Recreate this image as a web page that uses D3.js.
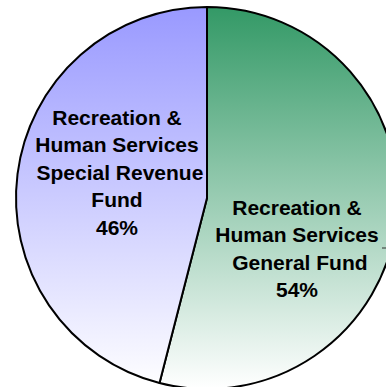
<!DOCTYPE html>
<html>
<head>
<meta charset="utf-8">
<script src="https://cdn.jsdelivr.net/npm/d3@7"></script>
<style>
  html, body { margin: 0; padding: 0; background: #ffffff; }
  svg { display: block; }
</style>
</head>
<body>
<script>
// Fund shares (percent)
const funds = ["General Fund", "Special Revenue Fund"];
const shares = [54, 46];
const labelLines = [
  ["Recreation &", "Human Services", " General Fund", "54%"],
  ["Recreation &", "Human Services", " Special Revenue", "Fund", "46%"]
];
const topColors = ["#339966", "#9999ff"];

const W = 386, H = 387;
const cx = 207, cy = 198, R = 191;

const svg = d3.select("body").append("svg")
  .attr("width", W).attr("height", H);

// vertical fades, top colour to white, across the pie's height
const defs = svg.append("defs");
topColors.forEach((c, i) => {
  const g = defs.append("linearGradient")
    .attr("id", "grad" + i)
    .attr("gradientUnits", "userSpaceOnUse")
    .attr("x1", 0).attr("y1", -R)
    .attr("x2", 0).attr("y2", R);
  g.append("stop").attr("offset", "0%").attr("stop-color", c);
  g.append("stop").attr("offset", "100%").attr("stop-color", "#ffffff");
});

const pie = d3.pie().sort(null).value(d => d)(shares);
const arc = d3.arc().innerRadius(0).outerRadius(R);

const g = svg.append("g").attr("transform", `translate(${cx},${cy})`);

g.selectAll("path.slice")
  .data(pie)
  .join("path")
  .attr("class", "slice")
  .attr("d", arc)
  .attr("fill", (d, i) => `url(#grad${i})`)
  .attr("stroke", "#000")
  .attr("stroke-width", 2)
  .attr("stroke-linejoin", "round");

// Label anchor points (slice label centres, relative to pie centre)
const labelPos = [[90, 17], [-90, -73]];
const lineH = 27.4;

labelLines.forEach((lines, i) => {
  const t = g.append("text")
    .attr("text-anchor", "middle")
    .attr("font-family", "'Liberation Sans', Arial, Helvetica, sans-serif")
    .attr("font-weight", "bold")
    .attr("font-size", 21)
    .attr("fill", "#000");
  lines.forEach((s, j) => {
    t.append("tspan")
      .attr("x", labelPos[i][0])
      .attr("y", labelPos[i][1] + j * lineH)
      .style("white-space", "pre")
      .text(s);
  });
});

// short leader stub beside the general fund label
g.append("line")
  .attr("x1", 175).attr("x2", 180)
  .attr("y1", 50).attr("y2", 50)
  .attr("stroke", "#333")
  .attr("stroke-width", 1);
</script>
</body>
</html>
